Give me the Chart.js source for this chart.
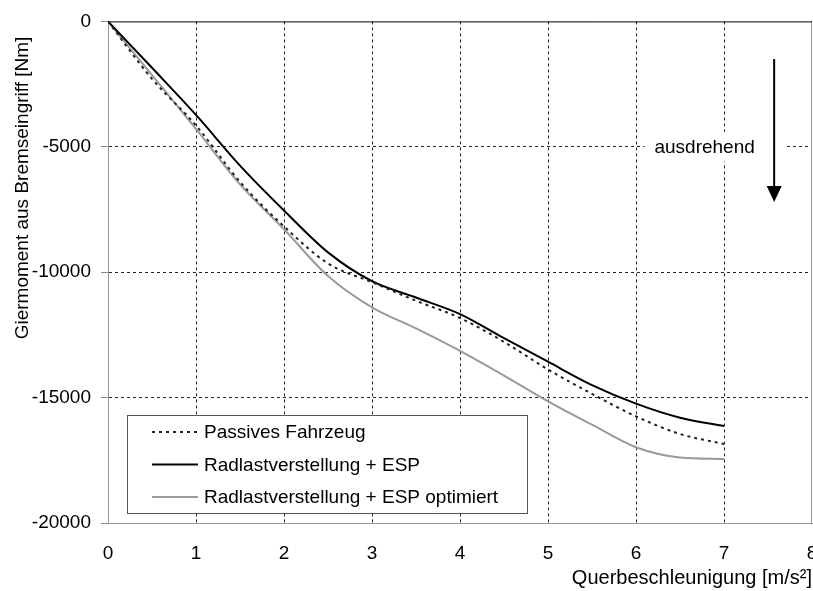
<!DOCTYPE html>
<html lang="de">
<head>
  <meta charset="UTF-8">
  <title>Giermoment aus Bremseingriff</title>
  <script src="https://cdn.jsdelivr.net/npm/chart.js"></script>
  <style>
    body {
      margin: 0;
      background: #fff;
    }

    .chart-box {
      position: relative;
      width: 813px;
      height: 591px;
    }
  </style>
</head>
<body>
  <div class="chart-box">
    <canvas id="giermomentChart"></canvas>
  </div>

  <script>
    // Querbeschleunigung [m/s²]
    const querBeschl = [0, 0.5, 1, 1.5, 2, 2.5, 3, 3.5, 4, 4.5, 5, 5.5, 6, 6.5, 7];

    // Giermoment [Nm]
    const passivesFahrzeug = [0, -2290, -4150, -6400, -8175, -9650, -10400, -11140, -11825, -12780, -13880, -14850, -15750, -16450, -16850];
    const radlastEsp = [0, -1850, -3730, -5750, -7540, -9210, -10360, -11010, -11670, -12630, -13570, -14500, -15240, -15800, -16130];
    const radlastEspOpt = [0, -2140, -4290, -6500, -8290, -10150, -11400, -12240, -13135, -14120, -15150, -16080, -16980, -17390, -17450];

    const xTickValues = [0, 1, 2, 3, 4, 5, 6, 7, 8];
    const yTickValues = [0, -5000, -10000, -15000, -20000];

    const xTitle = 'Querbeschleunigung [m/s²]';
    const yTitle = 'Giermoment aus Bremseingriff [Nm]';
    const noteText = 'ausdrehend';

    const FONT = '"Liberation Sans", Arial, sans-serif';

    const toPoints = (ys) => querBeschl.map((x, i) => ({ x: x, y: ys[i] }));

    // frame: black line at y = 0 on top, grey right edge
    const frame = {
      id: 'frame',
      afterDatasetsDraw(chart) {
        const { ctx, chartArea: a } = chart;
        ctx.save();
        ctx.lineWidth = 1;
        ctx.strokeStyle = '#999';
        ctx.beginPath();
        ctx.moveTo(a.right - 0.5, a.top);
        ctx.lineTo(a.right - 0.5, a.bottom);
        ctx.stroke();
        ctx.strokeStyle = '#000';
        ctx.beginPath();
        ctx.moveTo(a.left, a.top + 0.5);
        ctx.lineTo(a.right, a.top + 0.5);
        ctx.stroke();
        ctx.restore();
      }
    };

    const yAxisTitle = {
      id: 'yAxisTitle',
      afterDraw(chart) {
        const ctx = chart.ctx;
        ctx.save();
        ctx.translate(23, 188);
        ctx.rotate(-Math.PI / 2);
        ctx.font = '19px ' + FONT;
        ctx.fillStyle = '#000';
        ctx.textAlign = 'center';
        ctx.textBaseline = 'middle';
        ctx.fillText(yTitle, 0, 0);
        ctx.restore();
      }
    };

    // "ausdrehend" with downward arrow
    const arrowNote = {
      id: 'arrowNote',
      afterDraw(chart) {
        const { ctx, scales: { x, y } } = chart;
        const tx = x.getPixelForValue(6.78);
        const ty = y.getPixelForValue(-5000);
        ctx.save();
        ctx.font = '19px ' + FONT;
        const w = ctx.measureText(noteText).width;
        ctx.fillStyle = '#fff';
        ctx.fillRect(tx - w / 2 - 10, ty - 15, w + 42, 30);
        ctx.fillStyle = '#000';
        ctx.textAlign = 'center';
        ctx.textBaseline = 'middle';
        ctx.fillText(noteText, tx, ty + 1);

        const ax = x.getPixelForValue(7.57);
        const ay1 = y.getPixelForValue(-1500);
        const ay2 = y.getPixelForValue(-7200);
        ctx.strokeStyle = '#000';
        ctx.lineWidth = 2;
        ctx.beginPath();
        ctx.moveTo(ax, ay1);
        ctx.lineTo(ax, ay2 - 14);
        ctx.stroke();
        ctx.beginPath();
        ctx.moveTo(ax - 7.5, ay2 - 16);
        ctx.lineTo(ax + 7.5, ay2 - 16);
        ctx.lineTo(ax, ay2);
        ctx.closePath();
        ctx.fill();
        ctx.restore();
      }
    };

    const legendBox = {
      id: 'legendBox',
      afterDraw(chart) {
        const { ctx, chartArea: a } = chart;
        const bx = a.left + 19;
        const by = a.bottom - 108;
        ctx.save();
        ctx.fillStyle = '#fff';
        ctx.fillRect(bx, by, 400, 98);
        ctx.strokeStyle = '#555';
        ctx.lineWidth = 1;
        ctx.strokeRect(bx + 0.5, by + 0.5, 400, 98);
        ctx.font = '19px ' + FONT;
        ctx.textBaseline = 'middle';
        chart.data.datasets.forEach((ds, i) => {
          const ly = by + 17 + i * 32.5;
          ctx.strokeStyle = ds.borderColor;
          ctx.lineWidth = ds.borderWidth;
          ctx.setLineDash(ds.borderDash || []);
          ctx.beginPath();
          ctx.moveTo(bx + 25, ly);
          ctx.lineTo(bx + 71, ly);
          ctx.stroke();
          ctx.setLineDash([]);
          ctx.fillStyle = '#000';
          ctx.fillText(ds.label, bx + 77, ly + 1);
        });
        ctx.restore();
      }
    };

    new Chart(document.getElementById('giermomentChart'), {
      type: 'line',
      data: {
        datasets: [
          {
            label: 'Passives Fahrzeug',
            data: toPoints(passivesFahrzeug),
            borderColor: '#222',
            borderWidth: 2,
            borderDash: [3, 4]
          },
          {
            label: 'Radlastverstellung + ESP',
            data: toPoints(radlastEsp),
            borderColor: '#000',
            borderWidth: 2
          },
          {
            label: 'Radlastverstellung + ESP optimiert',
            data: toPoints(radlastEspOpt),
            borderColor: '#9a9a9a',
            borderWidth: 2
          }
        ]
      },
      options: {
        responsive: true,
        maintainAspectRatio: false,
        animation: false,
        layout: { padding: { top: 19, right: 1, left: 0, bottom: 0 } },
        elements: {
          point: { radius: 0 },
          line: { cubicInterpolationMode: 'monotone', fill: false }
        },
        plugins: {
          legend: { display: false },
          tooltip: { enabled: false }
        },
        scales: {
          x: {
            type: 'linear',
            min: 0,
            max: 8,
            afterBuildTicks: (s) => { s.ticks = xTickValues.map(v => ({ value: v })); },
            afterFit: (s) => { s.height = 68; s.paddingLeft = 0; s.paddingRight = 0; },
            ticks: {
              color: '#000',
              font: { family: FONT, size: 19 },
              padding: 19,
              maxRotation: 0,
              callback: (v) => String(v)
            },
            grid: {
              color: (c) => (c.tick && (c.tick.value === 0 || c.tick.value === 8)) ? 'rgba(0,0,0,0)' : '#222',
              lineWidth: 1,
              drawTicks: false
            },
            border: { color: '#999', width: 1, dash: [3, 3] },
            title: {
              display: true,
              text: xTitle,
              align: 'end',
              color: '#000',
              font: { family: FONT, size: 20 },
              padding: { top: 0, bottom: 1 }
            }
          },
          y: {
            min: -20000,
            max: 0,
            afterBuildTicks: (s) => { s.ticks = yTickValues.map(v => ({ value: v })); },
            afterFit: (s) => { s.width = 108; },
            ticks: {
              color: '#000',
              font: { family: FONT, size: 19 },
              padding: 10,
              callback: (v) => String(v)
            },
            grid: {
              color: (c) => (c.tick && (c.tick.value === 0 || c.tick.value === -20000)) ? 'rgba(0,0,0,0)' : '#222',
              lineWidth: 1,
              drawTicks: true,
              tickLength: 7,
              tickColor: '#888',
              tickBorderDash: []
            },
            border: { color: '#999', width: 1, dash: [3, 3] }
          }
        }
      },
      plugins: [frame, yAxisTitle, arrowNote, legendBox]
    });
  </script>
</body>
</html>
